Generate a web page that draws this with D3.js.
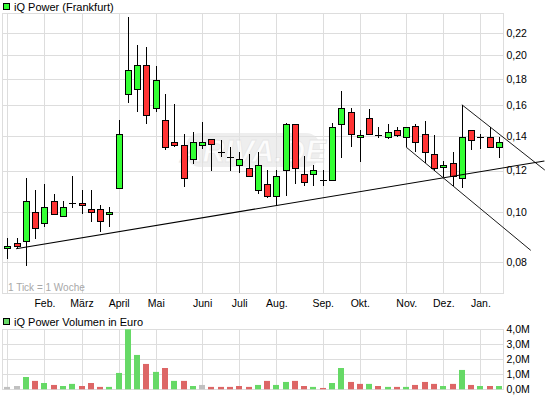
<!DOCTYPE html>
<meta charset="utf-8">

<!-- Load d3.js -->
<script src="https://d3js.org/d3.v7.min.js"></script>

<style>
  body { margin: 0; background: #fff; }
  text { font-family: "Liberation Sans", Arial, sans-serif; }
</style>

<div id="chart"></div>

<script>
// weekly candles, one per week (index 0..53)
var openPx  = [.0852,.0871,.0879,.0998,.0951,.1048,.0981,.1039,.1039,.1012,
               .1012,.0990,.1110,.1681,.1718,.1910,.1580,.1498,.1360,.1342,
               .1261,.1342,.1378,.1301,.1274,.1228,.1212,.1100,.1130,.1071,
               .1201,.1472,.1181,.1181,.1150,.1150,.1472,.1552,.1390,.1511,
               .1405,.1390,.1434,.1390,.1459,.1409,.1290,.1218,.1239,.1158,
               .1434,.1390,.1390,.1331];
var highPx  = [.0890,.0890,.1160,.1100,.1131,.1081,.1048,.1172,.1100,.1100,
               .1030,.1021,.1500,.2360,.2089,.2071,.1904,.1681,.1608,.1410,
               .1424,.1485,.1378,.1372,.1332,.1301,.1291,.1301,.1201,.1201,
               .1479,.1472,.1278,.1228,.1201,.1479,.1702,.1580,.1434,.1572,
               .1453,.1472,.1453,.1453,.1472,.1491,.1403,.1251,.1301,.1605,
               .1434,.1409,.1453,.1390];
var lowPx   = [.0811,.0848,.0788,.0887,.0934,.0990,.0981,.1019,.0990,.0958,
               .0916,.0934,.1110,.1619,.1556,.1476,.1556,.1313,.1331,.1118,
               .1236,.1319,.1200,.1276,.1200,.1189,.1170,.1081,.1062,.1025,
               .1071,.1130,.1120,.1120,.1120,.1150,.1271,.1331,.1248,.1403,
               .1384,.1378,.1390,.1331,.1301,.1243,.1200,.1168,.1120,.1110,
               .1313,.1319,.1331,.1271];
var closePx = [.0859,.0859,.1048,.0930,.1021,.0990,.1021,.1039,.1030,.0998,
               .0960,.0998,.1409,.1868,.1910,.1532,.1788,.1331,.1342,.1160,
               .1360,.1360,.1348,.1301,.1274,.1261,.1170,.1228,.1071,.1170,
               .1472,.1212,.1140,.1201,.1150,.1453,.1580,.1409,.1403,.1409,
               .1405,.1422,.1403,.1453,.1360,.1301,.1212,.1228,.1168,.1390,
               .1372,.1390,.1331,.1360];
// weekly volume in million euro
var volume  = [0.16,0.22,0.82,0.56,0.42,0.29,0.22,0.36,0.22,0.42,
               0.16,0.16,1.09,4.00,2.29,1.69,1.16,1.42,0.56,0.56,
               0.22,0.29,0.16,0.16,0.16,0.22,0.16,0.29,0.56,0.29,
               0.49,0.56,0.22,0.16,0.09,0.42,1.42,0.49,0.36,0.36,
               0.22,0.16,0.16,0.16,0.29,0.49,0.36,0.22,0.36,1.29,
               0.29,0.22,0.22,0.22];

var monthLabels = ["", "Feb.", "März", "April", "Mai", "Juni", "Juli", "Aug.", "Sep.", "Okt.", "Nov.", "Dez.", "Jan."];
var monthWeeks  = [0, 4, 8, 12, 16, 21, 25, 29, 34, 38, 43, 47, 51];
var priceTicks  = [0.08, 0.10, 0.12, 0.14, 0.16, 0.18, 0.20, 0.22];
var volumeTicks = [0, 1, 2, 3, 4];

// trend lines as [week, price] pairs
var supportLine   = [[0.94, 0.0850], [57.9, 0.1252]];
var channelTop    = [[49, 0.1605], [57.94, 0.1203]];
var channelBottom = [[43, 0.1331], [56.43, 0.0844]];

var W = 545, H = 398;
var green = "#33ff33", red = "#ff3333";
var vGreen = "#66d966", vRed = "#dd6666", vGray = "#c0c0c0";
var gridColor = "#dddddd";

var svg = d3.select("#chart").append("svg")
    .attr("width", W).attr("height", H);

var x = d3.scaleLinear().domain([-0.5, 53.5]).range([2.7, 503.6]);
var y = d3.scaleLog().domain([0.06983, 0.2406]).range([293.3, 13]);
var yv = d3.scaleLinear().domain([0, 4]).range([389.3, 329.3]);

function px(v) { return Math.round(v) + 0.5; }

var data = openPx.map(function (o, i) {
  return {i: i, o: o, h: highPx[i], l: lowPx[i], c: closePx[i], v: volume[i]};
});

// ---------- price panel ----------
var grid = svg.append("g").attr("stroke", gridColor).attr("fill", "none");
grid.append("rect").attr("x", 2.5).attr("y", 13.5).attr("width", 501).attr("height", 280);
grid.selectAll(".vg").data(monthWeeks).enter().append("line")
    .attr("x1", function (d) { return px(x(d)); }).attr("x2", function (d) { return px(x(d)); })
    .attr("y1", 13.5).attr("y2", 293.5);
grid.selectAll(".hg").data(priceTicks).enter().append("line")
    .attr("x1", 2.5).attr("x2", 503.5)
    .attr("y1", function (d) { return px(y(d)); }).attr("y2", function (d) { return px(y(d)); });

// watermark
var wm = svg.append("g").attr("opacity", 0.6);
wm.append("rect").attr("x", 186).attr("y", 133).attr("width", 134).attr("height", 34)
    .attr("rx", 14).attr("fill", "#e4e4e4");
wm.append("text").attr("x", 253).attr("y", 162).attr("text-anchor", "middle")
    .attr("font-size", 31).attr("font-weight", "bold").attr("font-style", "italic")
    .attr("fill", "#fbfbfb").attr("stroke", "#d6d6d6").attr("stroke-width", 0.8)
    .text("ARIVA.DE");

svg.append("text").attr("x", 8).attr("y", 291).attr("font-size", 10)
    .attr("fill", "#a8a8a8").text("1 Tick = 1 Woche");

// candles
var candles = svg.append("g");
candles.selectAll(".wick").data(data).enter().append("line")
    .attr("x1", function (d) { return px(x(d.i)); }).attr("x2", function (d) { return px(x(d.i)); })
    .attr("y1", function (d) { return Math.round(y(d.h)); })
    .attr("y2", function (d) { return Math.round(y(d.l)); })
    .attr("stroke", "#000");
candles.selectAll(".body").data(data.filter(function (d) { return Math.abs(y(d.o) - y(d.c)) >= 1; }))
  .enter().append("rect")
    .attr("x", function (d) { return Math.round(x(d.i)) - 3 + 0.5; })
    .attr("y", function (d) { return px(y(Math.max(d.o, d.c))); })
    .attr("width", 6)
    .attr("height", function (d) { return Math.max(1, Math.round(Math.abs(y(d.o) - y(d.c)))); })
    .attr("fill", function (d) { return d.c > d.o ? green : red; })
    .attr("stroke", "#000");
candles.selectAll(".doji").data(data.filter(function (d) { return Math.abs(y(d.o) - y(d.c)) < 1; }))
  .enter().append("line")
    .attr("x1", function (d) { return Math.round(x(d.i)) - 3; })
    .attr("x2", function (d) { return Math.round(x(d.i)) + 4; })
    .attr("y1", function (d) { return px(y(d.c)); }).attr("y2", function (d) { return px(y(d.c)); })
    .attr("stroke", "#000");

// trend lines
var line = d3.line().x(function (d) { return x(d[0]); }).y(function (d) { return y(d[1]); });
svg.append("path").attr("d", line(supportLine)).attr("fill", "none")
    .attr("stroke", "#000").attr("stroke-width", 1.1);
[channelTop, channelBottom].forEach(function (l) {
  svg.append("path").attr("d", line(l)).attr("fill", "none")
      .attr("stroke", "#000").attr("stroke-width", 0.9);
});

// price axis (right)
svg.append("g").attr("transform", "translate(503.5,0)")
    .call(d3.axisRight(y).tickValues(priceTicks).tickSize(0).tickPadding(3)
      .tickFormat(function (d) { return d.toFixed(2).replace(".", ","); }))
    .call(function (g) { g.select(".domain").remove(); })
    .selectAll("text").attr("font-size", 10.5).attr("fill", "#000")
    .style("font-family", '"Liberation Sans", Arial, sans-serif');

// month axis
svg.append("g").attr("transform", "translate(0,293.3)")
    .call(d3.axisBottom(x).tickValues(monthWeeks).tickSize(0).tickPadding(6)
      .tickFormat(function (d, k) { return monthLabels[k]; }))
    .call(function (g) { g.select(".domain").remove(); })
    .selectAll("text").attr("font-size", 10.5).attr("fill", "#000")
    .style("font-family", '"Liberation Sans", Arial, sans-serif');

// title legend
svg.append("rect").attr("x", 3.5).attr("y", 3.5).attr("width", 6).attr("height", 6)
    .attr("fill", green).attr("stroke", "#000");
svg.append("text").attr("x", 14).attr("y", 10.5).attr("font-size", 11).text("iQ Power (Frankfurt)");

// ---------- volume panel ----------
var vgrid = svg.append("g").attr("stroke", gridColor).attr("fill", "none");
vgrid.append("rect").attr("x", 2.5).attr("y", 329.5).attr("width", 501).attr("height", 60);
vgrid.selectAll(".vg").data(monthWeeks).enter().append("line")
    .attr("x1", function (d) { return px(x(d)); }).attr("x2", function (d) { return px(x(d)); })
    .attr("y1", 329.5).attr("y2", 389.5);
vgrid.selectAll(".hg").data(volumeTicks).enter().append("line")
    .attr("x1", 2.5).attr("x2", 503.5)
    .attr("y1", function (d) { return px(yv(d)); }).attr("y2", function (d) { return px(yv(d)); });

svg.append("g").selectAll("rect").data(data).enter().append("rect")
    .attr("x", function (d) { return Math.round(x(d.i)) - 3; })
    .attr("y", function (d) { return yv(d.v); })
    .attr("width", 6)
    .attr("height", function (d) { return yv(0) - yv(d.v); })
    .attr("fill", function (d) {
      if (d.i === 0) return vGray;
      var prev = closePx[d.i - 1];
      if (Math.abs(d.c - prev) < 1e-6) return vGray;
      return d.c > prev ? vGreen : vRed;
    });

svg.append("g").attr("transform", "translate(503.5,0)")
    .call(d3.axisRight(yv).tickValues(volumeTicks).tickSize(0).tickPadding(3)
      .tickFormat(function (d) { return d.toFixed(1).replace(".", ",") + "M"; }))
    .call(function (g) { g.select(".domain").remove(); })
    .selectAll("text").attr("font-size", 10.5).attr("fill", "#000")
    .style("font-family", '"Liberation Sans", Arial, sans-serif');

svg.append("rect").attr("x", 3.5).attr("y", 318.5).attr("width", 6).attr("height", 6)
    .attr("fill", vGreen).attr("stroke", "#000");
svg.append("text").attr("x", 14).attr("y", 325.5).attr("font-size", 11).text("iQ Power Volumen in Euro");
</script>
